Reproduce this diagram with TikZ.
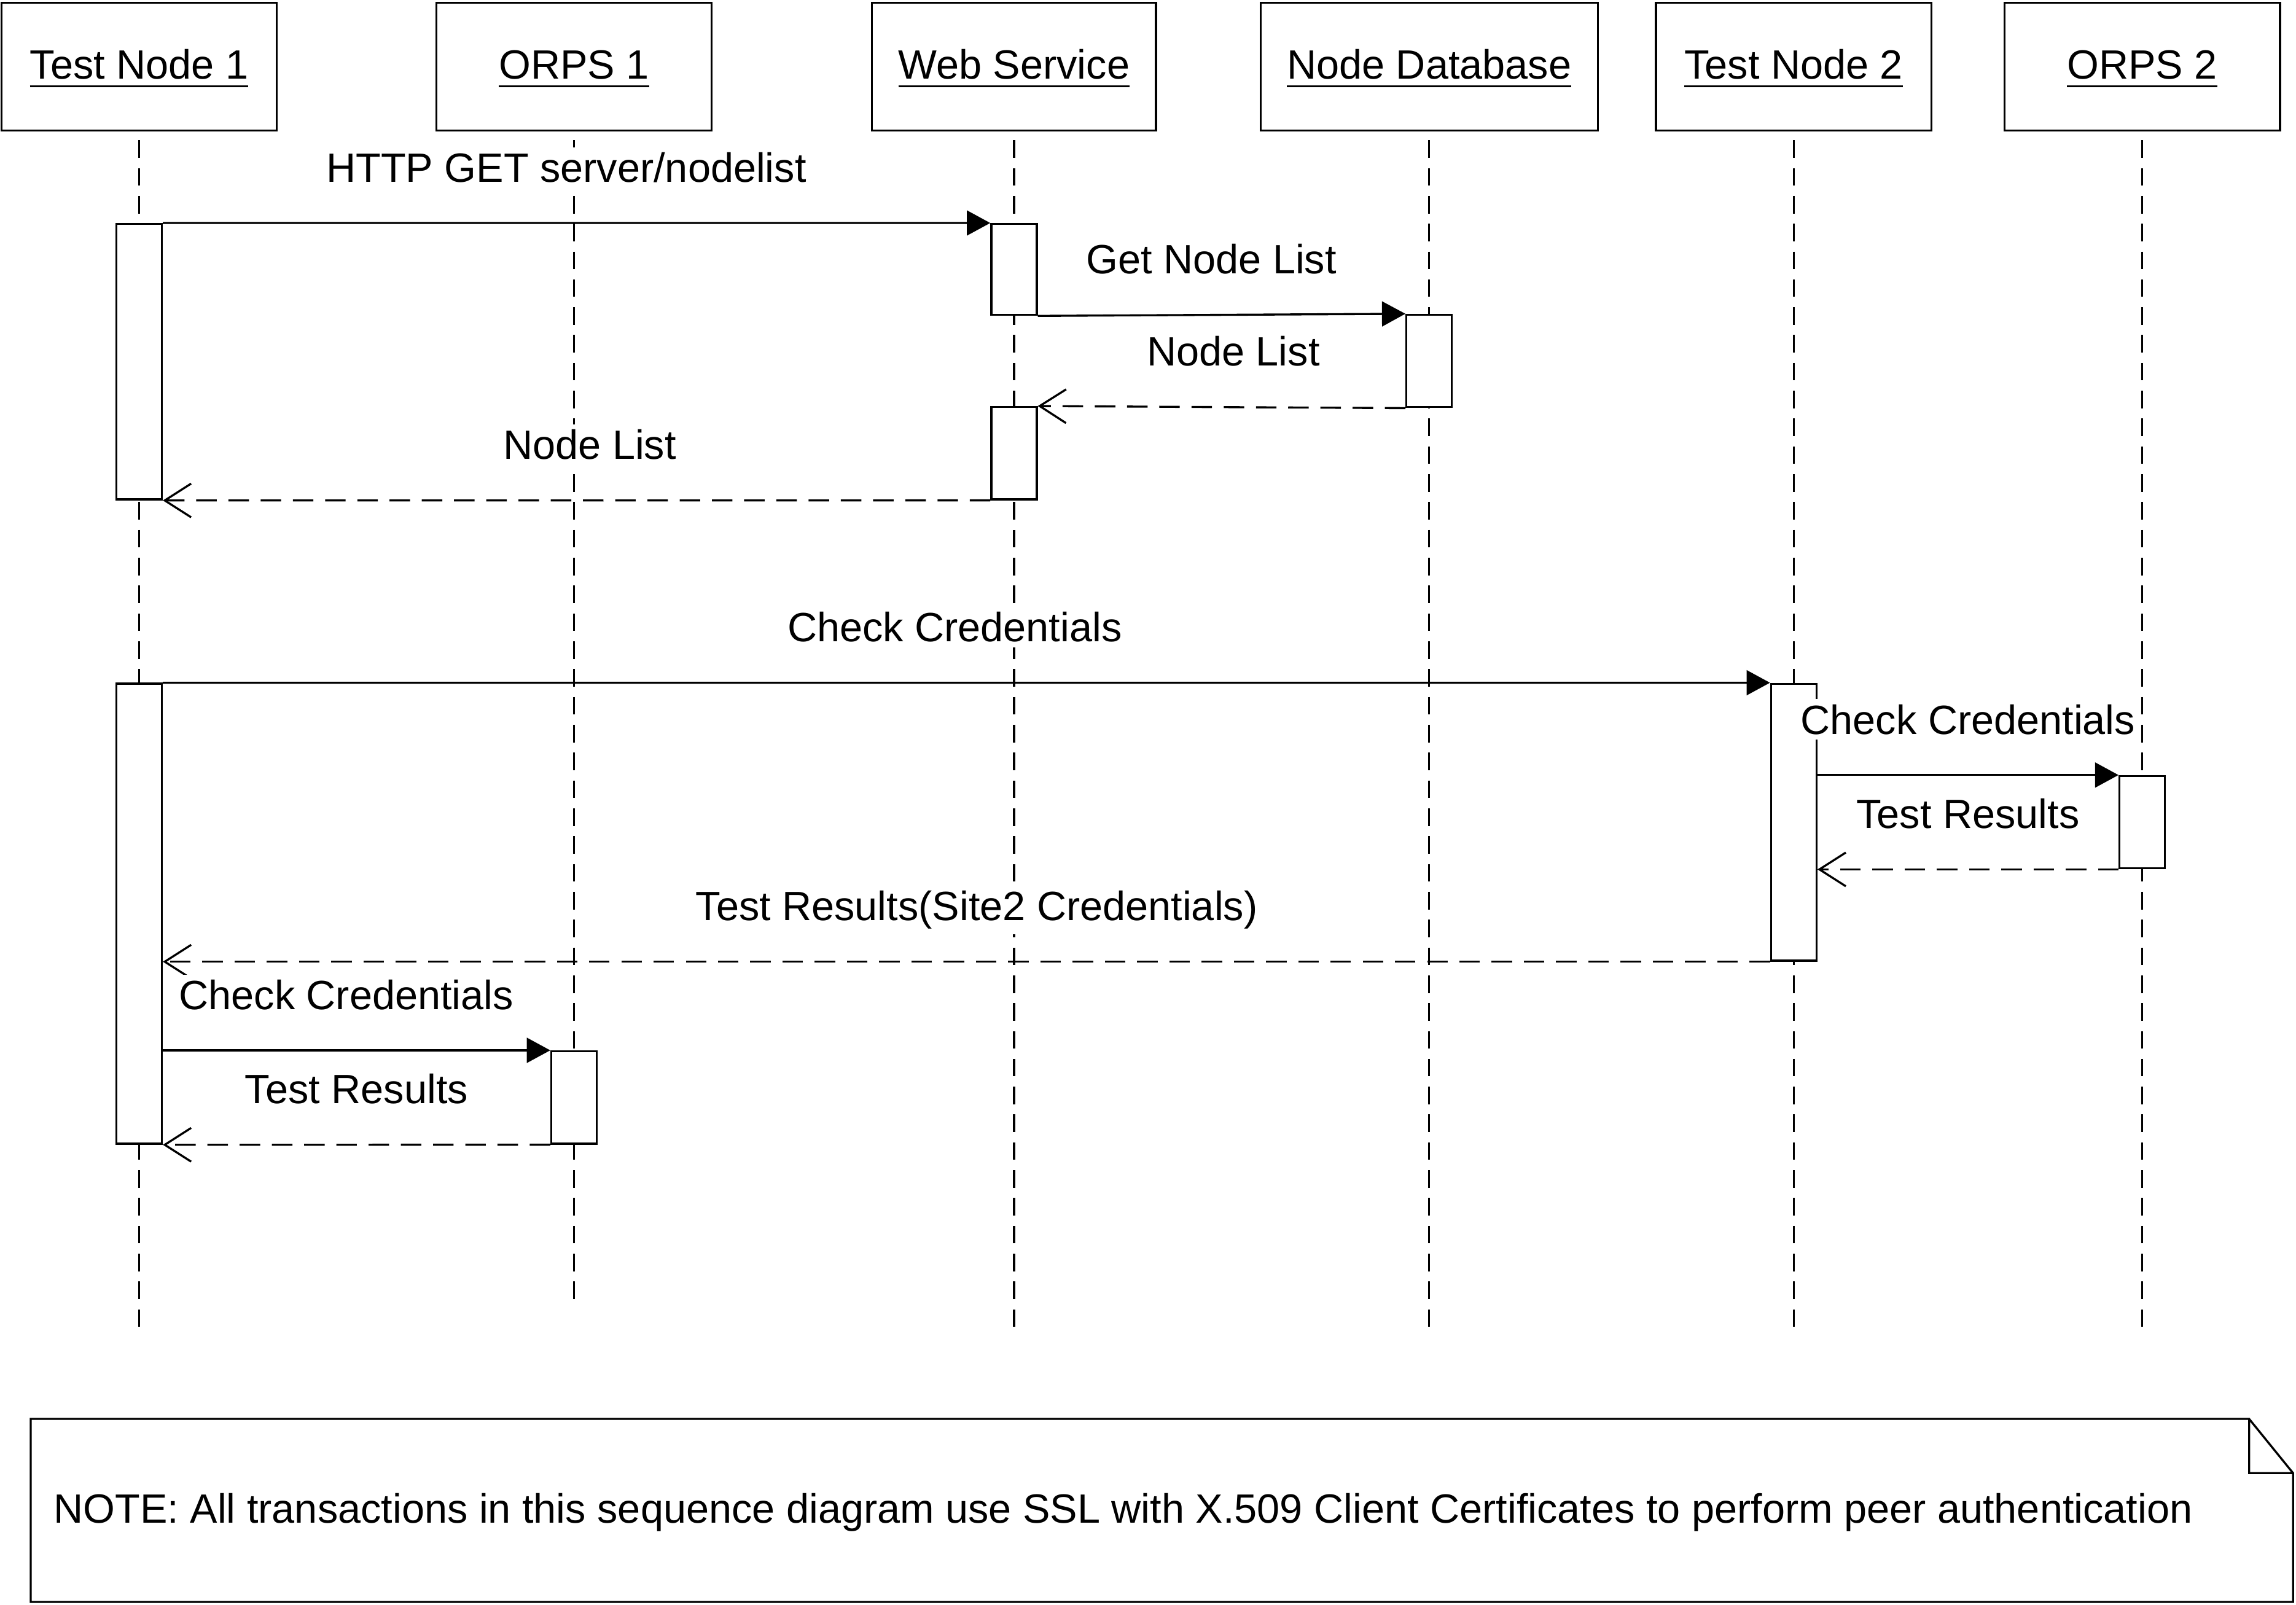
\documentclass[tikz,border=0pt]{standalone}
\usepackage{fontspec}
\setmainfont{Liberation Sans}
\usetikzlibrary{arrows.meta}

\begin{document}
\begin{tikzpicture}[x=0.01cm,y=-0.01cm,line width=0.4pt,
	every node/.style={font=\fontsize{7.95pt}{9.5pt}\selectfont},
	object/.style={draw,minimum width=1.88cm,minimum height=0.87cm,inner xsep=0.18cm,text height=0.24cm},
	activation/.style={draw,fill=white,minimum width=0.31cm,inner sep=0pt},
	lifeline/.style={dash pattern=on 0.12cm off 0.07cm,shorten <=0.06cm},
	call/.style={-{Triangle[length=0.16cm,width=0.17cm]}},
	reply/.style={dash pattern=on 0.14cm off 0.08cm,-{Straight Barb[length=0.18cm,width=0.23cm]}},
	msg/.style={fill=white,inner sep=1pt,anchor=base,yshift=0.28cm}]
		\useasboundingbox (0,0) rectangle (1568,1096);
		\node[object] (tn1) at (95,45.5) {\underline{Test Node 1}};
		\node[object] (orps1) at (392,45.5) {\underline{ORPS 1}};
		\node[object] (ws) at (692.5,45.5) {\underline{Web Service}};
		\node[object] (ndb) at (976,45.5) {\underline{Node Database}};
		\node[object] (tn2) at (1225,45.5) {\underline{Test Node 2}};
		\node[object] (orps2) at (1463,45.5) {\underline{ORPS 2}};
		\foreach \n/\e in {tn1/913,orps1/893,ws/913,ndb/913,tn2/913,orps2/913}
			\draw[lifeline] (\n.south) -- (\n.south |- 0,\e);
		\node[activation,minimum height=1.88cm] (a1) at (95,247) {};
		\node[activation,minimum height=0.62cm] (w1) at (692.5,184) {};
		\node[activation,minimum height=0.63cm] (d1) at (976,246.5) {};
		\node[activation,minimum height=0.63cm] (w2) at (692.5,309.5) {};
		\node[activation,minimum height=3.14cm] (a2) at (95,624) {};
		\node[activation,minimum height=1.89cm] (t2) at (1225,561.5) {};
		\node[activation,minimum height=0.63cm] (o2) at (1463,561.5) {};
		\node[activation,minimum height=0.63cm] (p1) at (392,749.5) {};
		\draw[call] (a1.north east) -- node[msg,xshift=-0.07cm] {HTTP GET server/nodelist} (w1.north west);
		\draw[call] (w1.south east) -- node[msg,xshift=-0.07cm] {Get Node List} (d1.north west);
		\draw[reply] (d1.south west) -- node[msg,xshift=0.08cm] {Node List} (w2.north east);
		\draw[reply] (w2.south west) -- node[msg,xshift=0.09cm] {Node List} (a1.south east);
		\draw[call] (a2.north east) -- node[msg,xshift=-0.08cm] {Check Credentials} (t2.north west);
		\draw[call] (t2.east |- o2.north) -- node[msg] {Check Credentials} (o2.north west);
		\draw[reply] (o2.south west) -- node[msg] {Test Results} (t2.east |- o2.south);
		\draw[reply] (t2.south west) -- node[msg,xshift=0.07cm] {Test Results(Site2 Credentials)} (a2.east |- t2.south);
		\draw[call] (a2.east |- p1.north) -- node[msg,xshift=-0.07cm] {Check Credentials} (p1.north west);
		\draw[reply] (p1.south west) -- node[msg] {Test Results} (a2.south east);
		\draw (21,969) -- (1536,969) -- (1566,1006) -- (1566,1094) -- (21,1094) -- cycle (1536,969) |- (1566,1006);
		\node[anchor=west,inner sep=0pt] (note) at (36,1033) {NOTE: All transactions in this sequence diagram use SSL with X.509 Client Certificates to perform peer authentication};
\end{tikzpicture}
\end{document}
